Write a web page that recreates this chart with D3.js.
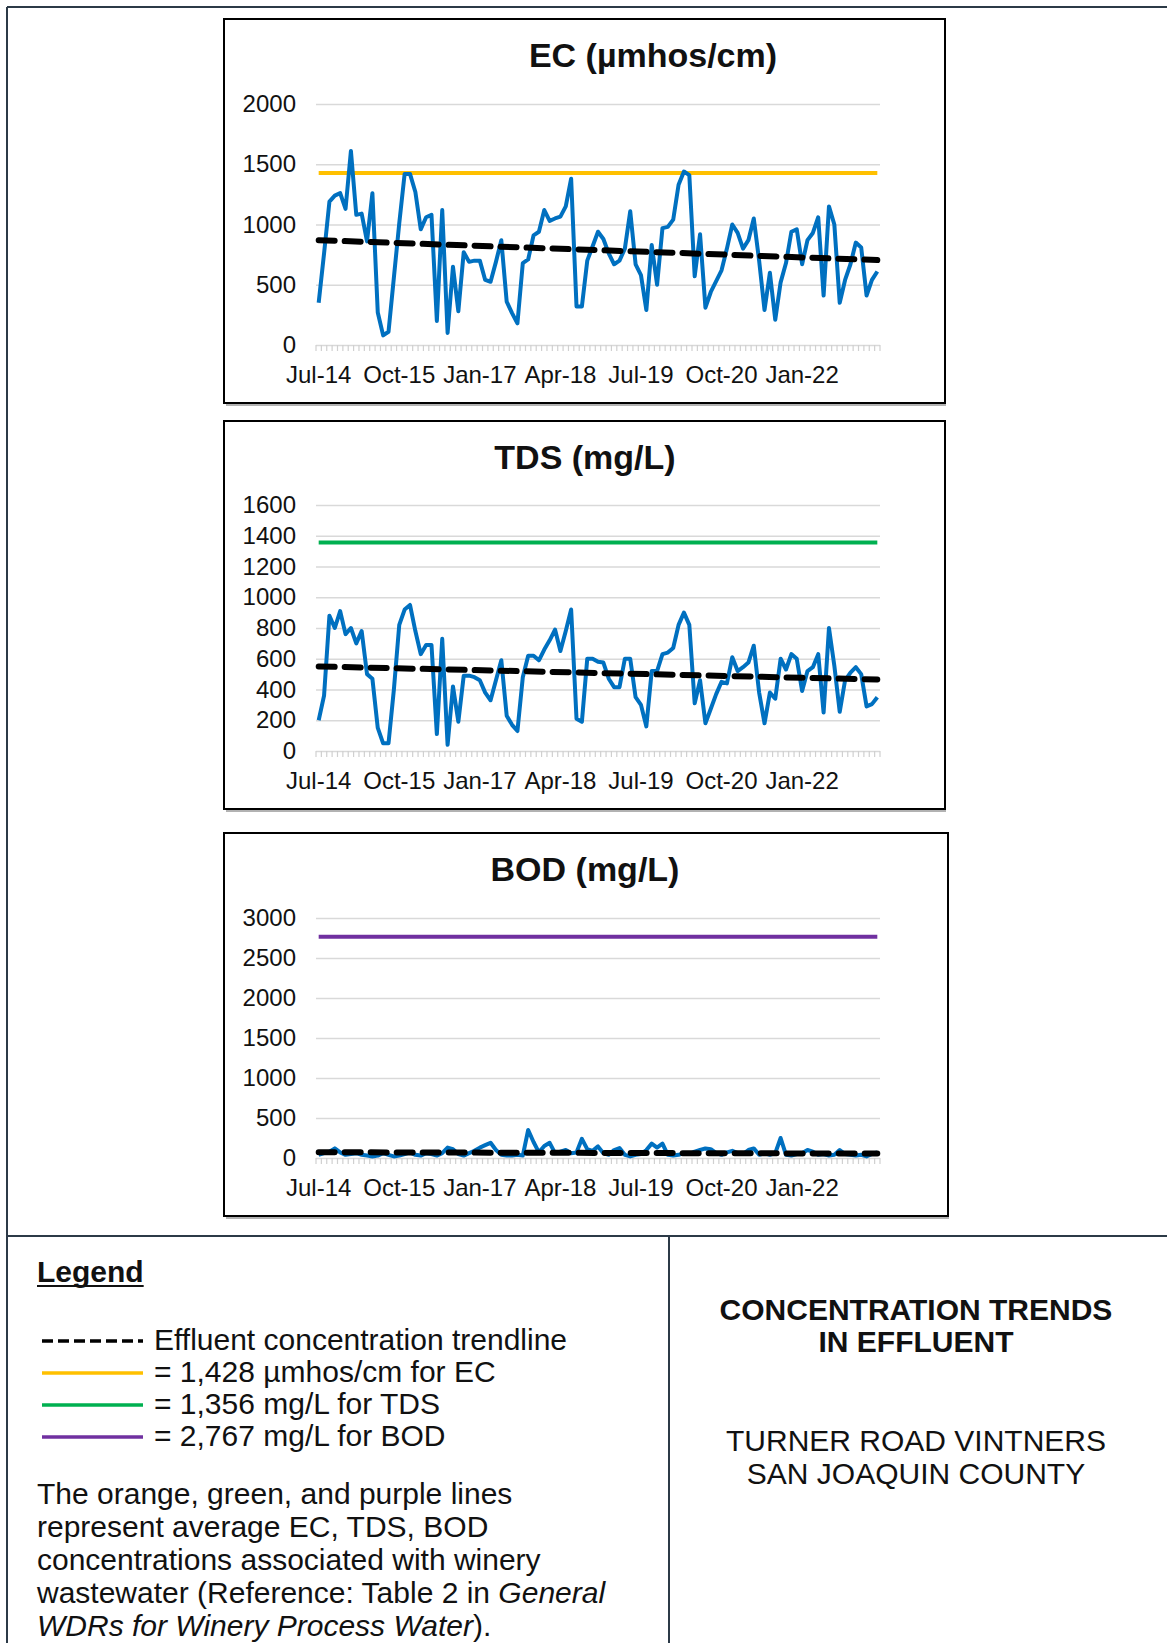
<!DOCTYPE html>
<html>
<head>
<meta charset="utf-8">
<script src="https://cdn.jsdelivr.net/npm/d3@7"></script>
<style>
body { margin: 0; background: #fff; }
text { font-family: "Liberation Sans", Arial, sans-serif; fill: #111; }
</style>
</head>
<body>
<svg id="fig" width="1167" height="1643"></svg>
<script>
// monthly samples, Jul-14 .. Mar-23
var ecValues = [350,760,1190,1240,1260,1130,1610,1080,1090,860,
  1260,270,80,110,560,1010,1420,1420,1270,960,
  1060,1080,200,1120,100,650,280,770,690,700,
  700,540,525,690,870,360,265,180,680,710,
  910,940,1120,1030,1050,1065,1150,1380,320,320,
  700,820,940,880,760,670,700,800,1110,670,
  580,290,830,500,970,980,1040,1330,1440,1410,
  570,920,310,440,530,620,800,1000,930,800,
  870,1050,700,290,600,210,520,680,940,960,
  670,870,930,1060,410,1150,1000,350,540,670,
  850,810,410,540,610];

var tdsValues = [200,360,880,800,910,760,800,700,780,500,
  470,150,50,50,400,820,920,950,780,630,
  690,690,110,730,40,420,190,490,490,480,
  460,380,330,460,590,230,170,130,480,620,
  620,590,660,720,790,650,780,920,210,190,
  600,600,580,575,470,415,415,600,600,350,
  300,160,520,520,630,640,670,820,900,820,
  310,460,180,275,370,450,440,610,520,545,
  575,685,380,180,380,340,600,530,630,600,
  390,520,545,630,250,800,555,255,460,510,
  545,500,290,305,350];

var bodValues = [40,60,80,120,70,40,50,60,40,30,
  20,30,60,40,20,30,50,70,40,30,
  60,50,30,60,130,110,50,30,60,90,
  130,160,190,100,40,30,30,40,30,350,
  200,70,150,190,60,80,100,60,70,240,
  110,90,145,60,40,100,125,40,20,40,
  50,100,180,130,180,40,30,40,60,50,
  80,100,120,110,60,40,70,90,60,50,
  100,120,40,60,40,60,250,40,30,50,
  60,100,80,40,50,30,40,100,50,40,
  30,40,20,50,70];

// trendline start / end values
var ecTrend = [870, 705];
var tdsTrend = [550, 465];
var bodTrend = [72, 55];

var ecAverage = 1428;
var tdsAverage = 1356;
var bodAverage = 2767;

var ecTicks = [0, 500, 1000, 1500, 2000];
var tdsTicks = [0, 200, 400, 600, 800, 1000, 1200, 1400, 1600];
var bodTicks = [0, 500, 1000, 1500, 2000, 2500, 3000];

var labelEvery = 15;
var months = d3.timeMonth.range(new Date(2014, 6, 1), new Date(2023, 3, 1));
var fmtMonth = d3.timeFormat("%b-%y");

var legendItems = [
  {text: "Effluent concentration trendline", color: "#000", dash: "11,5"},
  {text: "= 1,428 \u00b5mhos/cm for EC", color: "#ffc000", dash: null},
  {text: "= 1,356 mg/L for TDS", color: "#00b050", dash: null},
  {text: "= 2,767 mg/L for BOD", color: "#7030a0", dash: null}
];

var svg = d3.select("#fig");
svg.append("rect").attr("width", 1167).attr("height", 1643).attr("fill", "#fff");

var panels = [
  {title: "EC (\u00b5mhos/cm)", values: ecValues, trend: ecTrend, avg: ecAverage, color: "#ffc000",
   ticks: ecTicks, box: [224, 19, 721, 384], top: 104, bottom: 345, titleX: 653, titleY: 67},
  {title: "TDS (mg/L)", values: tdsValues, trend: tdsTrend, avg: tdsAverage, color: "#00b050",
   ticks: tdsTicks, box: [224, 421, 721, 388], top: 505, bottom: 751, titleX: 585, titleY: 469},
  {title: "BOD (mg/L)", values: bodValues, trend: bodTrend, avg: bodAverage, color: "#7030a0",
   ticks: bodTicks, box: [224, 833, 724, 383], top: 918, bottom: 1158, titleX: 585, titleY: 881}
];

var x = d3.scaleBand().domain(d3.range(months.length)).range([316, 880]).padding(0);
var cx = function(i) { return x(i) + x.bandwidth() / 2; };

function drawPanel(p) {
  var g = svg.append("g");
  var y = d3.scaleLinear().domain([0, d3.max(p.ticks)]).range([p.bottom, p.top]);

  // frame with small shadow
  g.append("line")
    .attr("x1", p.box[0] + 2).attr("x2", p.box[0] + p.box[2] + 1)
    .attr("y1", p.box[1] + p.box[3] + 2).attr("y2", p.box[1] + p.box[3] + 2)
    .attr("stroke", "#999").attr("stroke-width", 1.5);
  g.append("rect")
    .attr("x", p.box[0]).attr("y", p.box[1])
    .attr("width", p.box[2]).attr("height", p.box[3])
    .attr("fill", "#fff").attr("stroke", "#000").attr("stroke-width", 2);

  g.append("text")
    .attr("x", p.titleX).attr("y", p.titleY)
    .attr("text-anchor", "middle")
    .style("font-size", "34px").style("font-weight", "bold")
    .text(p.title);

  // gridlines
  g.append("g")
    .attr("transform", "translate(316,0)")
    .call(d3.axisLeft(y).tickValues(p.ticks).tickSize(-564).tickFormat(""))
    .call(function(a) { a.select(".domain").remove(); })
    .selectAll("line").attr("stroke", "#d9d9d9").attr("stroke-width", 1.5);

  // y labels
  var ya = g.append("g")
    .attr("transform", "translate(296,0)")
    .call(d3.axisLeft(y).tickValues(p.ticks).tickSize(0).tickPadding(0).tickFormat(d3.format("d")));
  ya.select(".domain").remove();
  ya.selectAll("text").style("font-size", "24px").style("fill", "#111");

  // category tick marks
  var bounds = d3.range(months.length).map(function(i) { return x(i); }).concat([x.range()[1]]);
  g.append("g").selectAll("line").data(bounds).enter().append("line")
    .attr("x1", function(d) { return d; }).attr("x2", function(d) { return d; })
    .attr("y1", p.bottom).attr("y2", p.bottom + 6)
    .attr("stroke", "#d0d0d0").attr("stroke-width", 1.2);

  // x labels
  var xa = g.append("g")
    .attr("transform", "translate(0," + p.bottom + ")")
    .call(d3.axisBottom(x)
      .tickValues(d3.range(0, months.length - 10, labelEvery))
      .tickSize(0).tickPadding(21)
      .tickFormat(function(i) { return fmtMonth(months[i]); }));
  xa.select(".domain").remove();
  xa.selectAll("text").style("font-size", "24px").style("fill", "#111");

  var line = d3.line().x(function(d) { return cx(d[0]); }).y(function(d) { return y(d[1]); });
  var n = months.length - 1;

  g.append("path")
    .datum([[0, p.avg], [n, p.avg]])
    .attr("d", line).attr("fill", "none")
    .attr("stroke", p.color).attr("stroke-width", 4);

  g.append("path")
    .datum(p.values.map(function(v, i) { return [i, v]; }))
    .attr("d", line).attr("fill", "none")
    .attr("stroke", "#0070c0").attr("stroke-width", 4)
    .attr("stroke-linejoin", "round");

  g.append("path")
    .datum([[0, p.trend[0]], [n, p.trend[1]]])
    .attr("d", line).attr("fill", "none")
    .attr("stroke", "#000").attr("stroke-width", 6)
    .attr("stroke-dasharray", "16,10").attr("stroke-linecap", "round");
}

panels.forEach(drawPanel);

// outer frame and dividers
var frame = svg.append("g").attr("stroke", "#2c3a47").attr("stroke-width", 2).attr("fill", "none");
frame.append("line").attr("x1", 7).attr("x2", 1167).attr("y1", 7).attr("y2", 7);
frame.append("line").attr("x1", 7).attr("x2", 7).attr("y1", 7).attr("y2", 1643);
frame.append("line").attr("x1", 7).attr("x2", 1167).attr("y1", 1236).attr("y2", 1236);
frame.append("line").attr("x1", 669).attr("x2", 669).attr("y1", 1236).attr("y2", 1643);

// legend
var lg = svg.append("g");
var lt = lg.append("text").attr("x", 37).attr("y", 1282)
  .style("font-size", "30px").style("font-weight", "bold").text("Legend");
var lw = lt.node().getComputedTextLength();
lg.append("line").attr("x1", 37).attr("x2", 37 + lw).attr("y1", 1286).attr("y2", 1286)
  .attr("stroke", "#111").attr("stroke-width", 2);

legendItems.forEach(function(d, i) {
  var yy = 1341 + i * 32;
  lg.append("line").attr("x1", 42).attr("x2", 143).attr("y1", yy).attr("y2", yy)
    .attr("stroke", d.color).attr("stroke-width", 3.5)
    .attr("stroke-dasharray", d.dash);
  lg.append("text").attr("x", 154).attr("y", yy + 9)
    .style("font-size", "30px").text(d.text);
});

var para = lg.append("text").style("font-size", "30px");
var paraLines = [
  [["The orange, green, and purple lines", false]],
  [["represent average EC, TDS, BOD", false]],
  [["concentrations associated with winery", false]],
  [["wastewater (Reference: Table 2 in ", false], ["General", true]],
  [["WDRs for Winery Process Water", true], [").", false]]
];
paraLines.forEach(function(parts, i) {
  parts.forEach(function(pt, j) {
    var ts = para.append("tspan").text(pt[0]).style("font-style", pt[1] ? "italic" : "normal");
    if (j === 0) ts.attr("x", 37).attr("y", 1504 + i * 33);
  });
});

// title block
var tb = svg.append("g").attr("text-anchor", "middle").style("font-size", "30px");
tb.append("text").attr("x", 916).attr("y", 1320).style("font-weight", "bold").text("CONCENTRATION TRENDS");
tb.append("text").attr("x", 916).attr("y", 1352).style("font-weight", "bold").text("IN EFFLUENT");
tb.append("text").attr("x", 916).attr("y", 1451).text("TURNER ROAD VINTNERS");
tb.append("text").attr("x", 916).attr("y", 1484).text("SAN JOAQUIN COUNTY");
</script>
</body>
</html>
